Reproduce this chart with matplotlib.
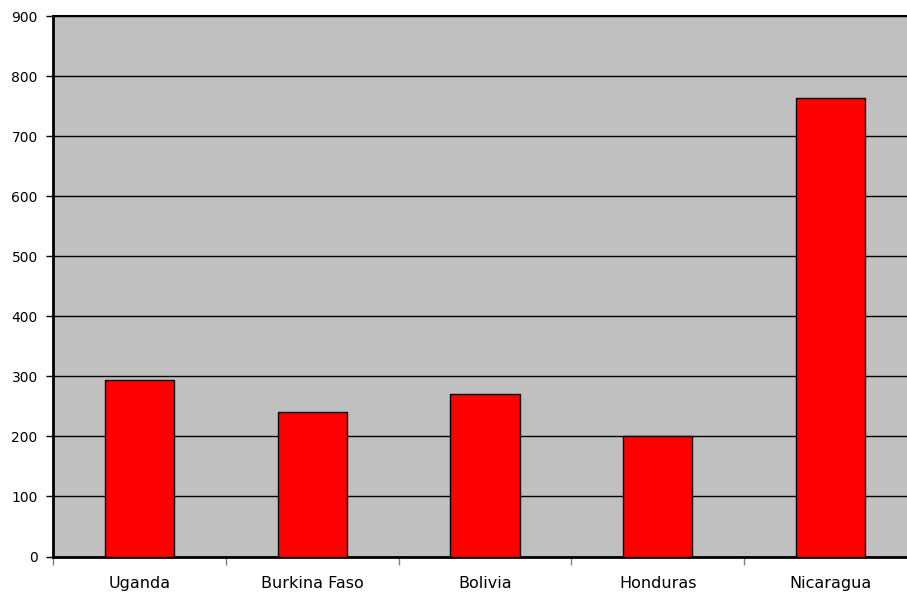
import matplotlib.pyplot as plt
import numpy as np

# données
pays = ["Uganda", "Burkina Faso", "Bolivia", "Honduras", "Nicaragua"]
valeurs = [294, 241, 270, 200, 763]
graduations_y = [0, 100, 200, 300, 400, 500, 600, 700, 800, 900]

plt.rcParams['font.family'] = ['DejaVu Sans']

fig = plt.figure(figsize=(9.07, 5.96), dpi=100)
ax = fig.add_axes([53 / 907, 1 - 556.5 / 596, 864 / 907, 540.5 / 596])
ax.set_facecolor("#c0c0c0")

x = np.arange(len(pays))
ax.bar(x, valeurs, width=0.4, color="#ff0000", edgecolor="black", linewidth=1, zorder=3)

ax.set_xlim(-0.5, len(pays) - 0.5)
ax.set_ylim(0, 900)
ax.set_yticks(graduations_y)
ax.yaxis.grid(True, color="black", linewidth=1)
ax.set_axisbelow(True)

# graduations x entre les catégories
ax.set_xticks(np.arange(len(pays) + 1) - 0.5)
ax.set_xticklabels([])
ax.set_xticks(x, minor=True)
ax.set_xticklabels(pays, minor=True)
ax.tick_params(axis="x", which="minor", length=0, pad=14, labelsize=11.5)
ax.tick_params(axis="x", which="major", length=6, color="#808080", width=1)
ax.tick_params(axis="y", length=5, width=1, labelsize=10, pad=6)

for cote in ["left", "bottom"]:
    ax.spines[cote].set_linewidth(2)
ax.spines["top"].set_linewidth(1.5)
ax.spines["right"].set_visible(False)

fig.savefig("out.png", dpi=100)
